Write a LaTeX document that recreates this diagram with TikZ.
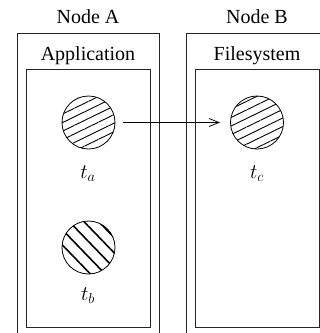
\documentclass[tikz,border=0pt]{standalone}
\usepackage{fontspec}
\setmainfont{Liberation Serif}
\usetikzlibrary{arrows.meta, patterns.meta, positioning}

\begin{document}
\begin{tikzpicture}[
    x=1pt, y=-1pt,
    font=\fontsize{20}{24}\selectfont,
    hostbox/.style={rectangle, draw=black!85, line width=1pt, anchor=north west, inner sep=0pt},
    title/.style={inner sep=0pt, anchor=base},
    task/.style={circle, draw=black, line width=0.8pt, minimum size=53pt, inner sep=0pt},
    tasklabel/.style={inner sep=0pt, anchor=base},
    arrow/.style={line width=0.8pt, -{Straight Barb[length=10pt, width=8pt]}, shorten <=8pt, shorten >=10pt}
]
\useasboundingbox (0,0) rectangle (320,333);
\clip (0,0) rectangle (320,333);

% node A
\node (hostA) [hostbox, minimum width=142pt, minimum height=310pt] at (17,33) {};
\node (appA)  [hostbox, minimum width=124pt, minimum height=258pt] at (26,69) {};
\node (nameA) [title] at (88,23) {Node A};
\node (roleA) [title] at (88,60) {Application};

% node B
\node (hostB) [hostbox, minimum width=142pt, minimum height=310pt] at (186,33) {};
\node (fsB)   [hostbox, minimum width=124pt, minimum height=258pt] at (195,69) {};
\node (nameB) [title] at (257,23) {Node B};
\node (roleB) [title] at (257,60) {Filesystem};

% tasks
\node (ta) [task, pattern={Lines[angle=26, distance=7.7pt, line width=0.9pt]}] at (88.5,122.5) {};
\node (tb) [task, pattern={Lines[angle=-46, distance=10.6pt, line width=1.6pt]}] at (88.5,247.5) {};
\node (tc) [task, pattern={Lines[angle=26, distance=7.7pt, line width=0.9pt]}] at (257,122.5) {};
\node (la) [tasklabel] at (88,178) {$t_a$};
\node (lb) [tasklabel] at (88,300) {$t_b$};
\node (lc) [tasklabel] at (257,178) {$t_c$};

\draw [arrow] (ta) -- (tc);
\end{tikzpicture}
\end{document}
